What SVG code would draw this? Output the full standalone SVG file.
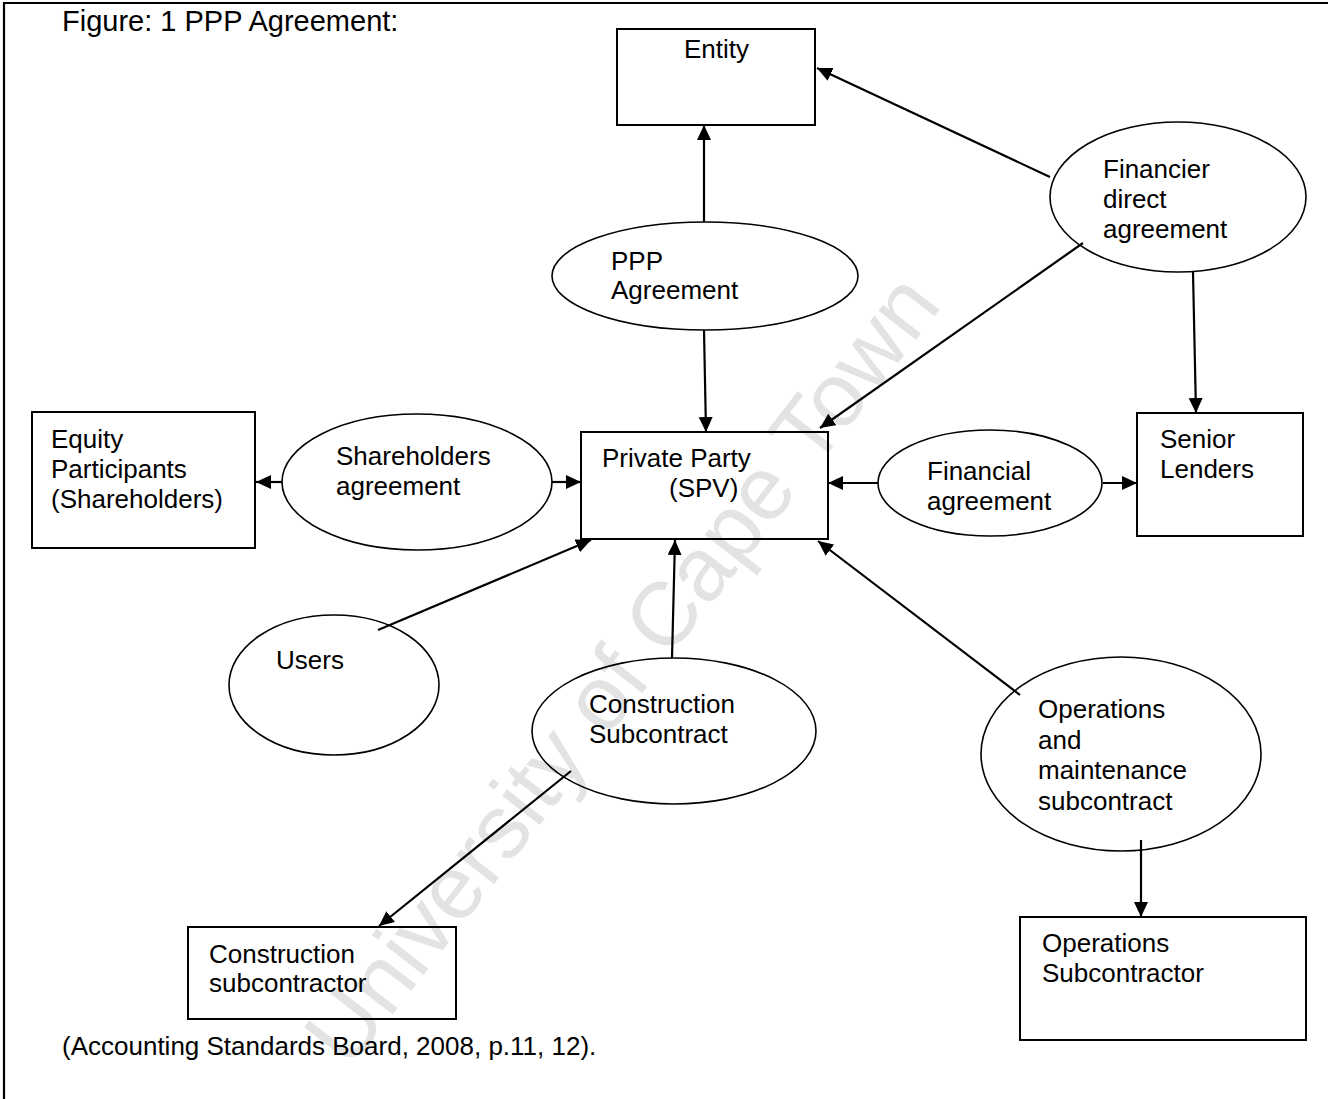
<svg xmlns="http://www.w3.org/2000/svg" width="1328" height="1099" viewBox="0 0 1328 1099">
<style>
text{font-family:"Liberation Sans",Arial,sans-serif;font-size:26px;fill:#000}
.title{font-size:29px}
.box{fill:none;stroke:#000;stroke-width:2}
.ell{fill:none;stroke:#000;stroke-width:1.6}
.con line{stroke:#000;stroke-width:2.2;fill:none}
.wm{font-size:90px;fill:#e3e3e3}
</style>
<defs>
<marker id="ah" markerUnits="userSpaceOnUse" markerWidth="16" markerHeight="15" refX="15" refY="7" orient="auto">
<path d="M0,0 L15,7 L0,14 z" fill="#000"/>
</marker>
</defs>
<rect width="1328" height="1099" fill="#fff"/>
<text class="wm" x="646" y="688" text-anchor="middle" transform="rotate(-52.2 646 688)">University of Cape Town</text>
<path d="M4,1099 V3 H1328" fill="none" stroke="#000" stroke-width="2.2"/>
<text class="title" x="62" y="31">Figure: 1 PPP Agreement:</text>

<g id="entity"><rect class="box" x="617" y="29" width="198" height="96"/><text x="684" y="58">Entity</text></g>
<g id="ppp"><ellipse class="ell" cx="705" cy="276" rx="153" ry="54"/><text x="611" y="270">PPP</text><text x="611" y="299">Agreement</text></g>
<g id="financier"><ellipse class="ell" cx="1178" cy="197" rx="128" ry="75"/><text x="1103" y="178">Financier</text><text x="1103" y="208">direct</text><text x="1103" y="238">agreement</text></g>
<g id="equity"><rect class="box" x="32" y="412" width="223" height="136"/><text x="51" y="448">Equity</text><text x="51" y="478">Participants</text><text x="51" y="508">(Shareholders)</text></g>
<g id="shareholders"><ellipse class="ell" cx="417" cy="482" rx="135" ry="68"/><text x="336" y="465">Shareholders</text><text x="336" y="495">agreement</text></g>
<g id="spv"><rect class="box" x="581" y="432" width="247" height="107"/><text x="602" y="467">Private Party</text><text x="669" y="497">(SPV)</text></g>
<g id="financial"><ellipse class="ell" cx="990" cy="483" rx="112" ry="53"/><text x="927" y="480">Financial</text><text x="927" y="510">agreement</text></g>
<g id="senior"><rect class="box" x="1137" y="413" width="166" height="123"/><text x="1160" y="448">Senior</text><text x="1160" y="478">Lenders</text></g>
<g id="users"><ellipse class="ell" cx="334" cy="685" rx="105" ry="70"/><text x="276" y="669">Users</text></g>
<g id="construction"><ellipse class="ell" cx="674" cy="731" rx="142" ry="73"/><text x="589" y="713">Construction</text><text x="589" y="743">Subcontract</text></g>
<g id="ops"><ellipse class="ell" cx="1121" cy="754" rx="140" ry="97"/><text x="1038" y="718">Operations</text><text x="1038" y="749">and</text><text x="1038" y="779">maintenance</text><text x="1038" y="810">subcontract</text></g>
<g id="constructor"><rect class="box" x="188" y="927" width="268" height="92"/><text x="209" y="963">Construction</text><text x="209" y="992">subcontractor</text></g>
<g id="opsco"><rect class="box" x="1020" y="917" width="286" height="123"/><text x="1042" y="952">Operations</text><text x="1042" y="982">Subcontractor</text></g>

<text x="62" y="1055">(Accounting Standards Board, 2008, p.11, 12).</text>

<g id="connectors" class="con">
<line x1="704" y1="222" x2="704" y2="125" marker-end="url(#ah)"/>
<line x1="1050" y1="177" x2="817" y2="68" marker-end="url(#ah)"/>
<line x1="1083" y1="243" x2="820" y2="428" marker-end="url(#ah)"/>
<line x1="1193" y1="272" x2="1196" y2="413" marker-end="url(#ah)"/>
<line x1="704" y1="330" x2="706" y2="432" marker-end="url(#ah)"/>
<line x1="878" y1="483" x2="828" y2="483" marker-end="url(#ah)"/>
<line x1="1103" y1="483" x2="1137" y2="483" marker-end="url(#ah)"/>
<line x1="282" y1="482" x2="256" y2="482" marker-end="url(#ah)"/>
<line x1="552" y1="482" x2="581" y2="482" marker-end="url(#ah)"/>
<line x1="378" y1="630" x2="591" y2="540" marker-end="url(#ah)"/>
<line x1="672" y1="658" x2="675" y2="540" marker-end="url(#ah)"/>
<line x1="1020" y1="695" x2="818" y2="541" marker-end="url(#ah)"/>
<line x1="571" y1="771" x2="379" y2="926" marker-end="url(#ah)"/>
<line x1="1141" y1="840" x2="1141" y2="917" marker-end="url(#ah)"/>
</g>
</svg>
